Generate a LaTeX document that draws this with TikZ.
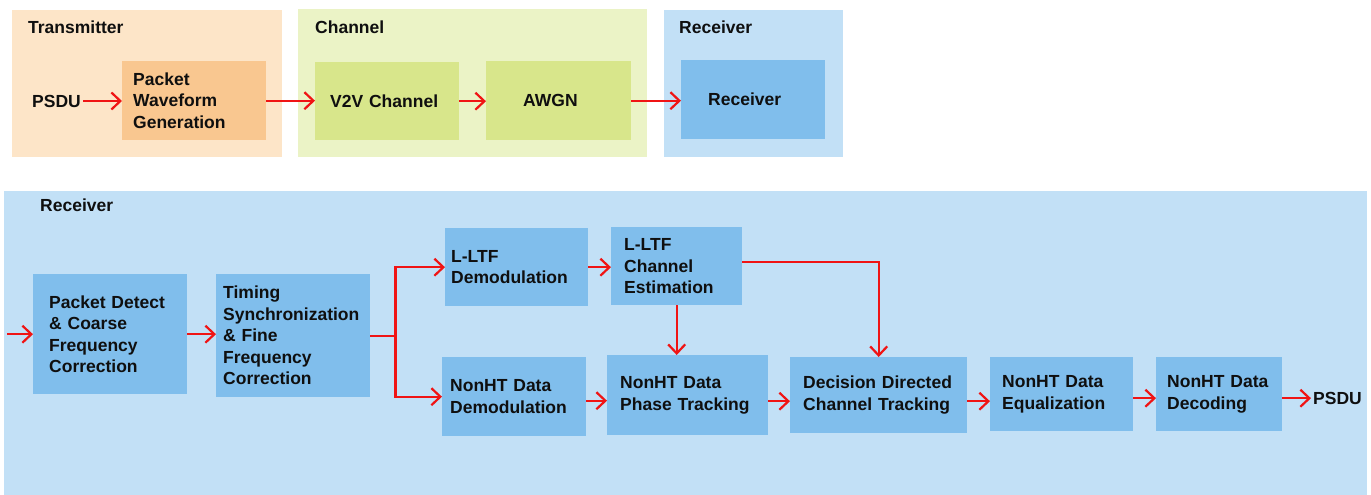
\documentclass[tikz,border=0pt]{standalone}
\usepackage{fontspec}
\setmainfont{Liberation Sans}
\usetikzlibrary{arrows.meta}

\definecolor{txpanel}{RGB}{253,229,200}
\definecolor{txblock}{RGB}{249,199,144}
\definecolor{chpanel}{RGB}{235,243,198}
\definecolor{chblock}{RGB}{216,230,139}
\definecolor{rxpanel}{RGB}{194,224,246}
\definecolor{rxblock}{RGB}{128,190,236}
\definecolor{flow}{RGB}{240,20,20}
\definecolor{ink}{RGB}{15,15,15}

\newcommand{\lbl}{\fontsize{17.5}{21.5}\selectfont\bfseries}

\tikzset{
  blk/.style={fill=#1, anchor=north west, align=left, text=ink, font=\lbl, inner ysep=0pt},
  title/.style={anchor=west, text=ink, font=\lbl, inner sep=0pt},
  sig/.style={draw=flow, line width=2.2pt, -{Straight Barb[length=9pt,width=17pt,line width=2.2pt]}},
}

\begin{document}
\begin{tikzpicture}[x=1pt, y=-1pt]
  \useasboundingbox (0,0) rectangle (1371,495);
  \fill[white] (0,0) rectangle (1371,495);

  % top row: panels
  \fill[txpanel] (12,10) rectangle (282,157);
  \fill[chpanel] (298,9) rectangle (647,157);
  \fill[rxpanel] (664,10) rectangle (843,157);
  \node[title] (txtitle) at (28,27) {Transmitter};
  \node[title] (chtitle) at (315,27) {Channel};
  \node[title] (rxtitle) at (679,27) {Receiver};

  % top row: blocks
  \node[title] (psin) at (32,101) {PSDU};
  \node[blk=txblock, minimum width=144, minimum height=79, text width=122, inner xsep=11] (pwg) at (122,61) {Packet\\Waveform\\Generation};
  \node[blk=chblock, minimum width=144, minimum height=78, text width=114, inner xsep=15] (v2v) at (315,62) {V2V Channel};
  \node[blk=chblock, minimum width=145, minimum height=79, text width=71, inner xsep=37] (awgn) at (486,61) {AWGN};
  \node[blk=rxblock, minimum width=144, minimum height=79, text width=90, inner xsep=27] (rxb) at (681,60) {Receiver};

  \draw[sig, shorten <=2pt] (psin.east) -- (psin.east -| pwg.west);
  \draw[sig] (pwg.east) -- (pwg.east -| v2v.west);
  \draw[sig] (v2v.east) -- (v2v.east -| awgn.west);
  \draw[sig] (awgn.east) -- (awgn.east -| rxb.west);

  % receiver detail
  \fill[rxpanel] (4,191) rectangle (1367,495);
  \node[title] (rxdtitle) at (40,205) {Receiver};

  \node[blk=rxblock, minimum width=154, minimum height=120, text width=122, inner xsep=16] (pd) at (33,274) {Packet Detect\\\& Coarse\\Frequency\\Correction};
  \node[blk=rxblock, minimum width=154, minimum height=123, text width=140, inner xsep=7] (tim) at (216,274) {Timing\\Synchronization\\\& Fine\\Frequency\\Correction};
  \node[blk=rxblock, minimum width=143, minimum height=78, text width=131, inner xsep=6] (ld) at (445,228) {L-LTF\\Demodulation};
  \node[blk=rxblock, minimum width=131, minimum height=78, text width=105, inner xsep=13] (lce) at (611,227) {L-LTF\\Channel\\Estimation};
  \node[blk=rxblock, minimum width=144, minimum height=79, text width=128, inner xsep=8] (nd) at (442,357) {NonHT Data\\Demodulation};
  \node[blk=rxblock, minimum width=161, minimum height=80, text width=135, inner xsep=13] (pt) at (607,355) {NonHT Data\\Phase Tracking};
  \node[blk=rxblock, minimum width=177, minimum height=76, text width=151, inner xsep=13] (dd) at (790,357) {Decision Directed\\Channel Tracking};
  \node[blk=rxblock, minimum width=143, minimum height=74, text width=119, inner xsep=12] (eq) at (990,357) {NonHT Data\\Equalization};
  \node[blk=rxblock, minimum width=126, minimum height=74, text width=104, inner xsep=11] (dec) at (1156,357) {NonHT Data\\Decoding};
  \node[title] (psout) at (1313,398) {PSDU};

  \coordinate (rxin) at ([xshift=-26]pd.west);
  \draw[sig] (rxin) -- (pd.west);
  \draw[sig] (pd.east) -- (pd.east -| tim.west);
  \draw[draw=flow, line width=2.2pt] (tim.east) -- ++(25,0) coordinate (br);
  \draw[sig] (br) |- (ld.west);
  \draw[sig] (br) |- (nd.west);
  \draw[sig] (ld.east) -- (ld.east -| lce.west);
  \draw[sig] (lce.south) -- (lce.south |- pt.north);
  \draw[sig] ([yshift=4]lce.east) -| (dd.north);
  \draw[sig] ([yshift=-4]nd.east) -- ([yshift=-4]nd.east -| pt.west);
  \draw[sig] ([yshift=-6]pt.east) -- ([yshift=-6]pt.east -| dd.west);
  \draw[sig] ([yshift=-6]dd.east) -- ([yshift=-6]dd.east -| eq.west);
  \draw[sig] ([yshift=-4]eq.east) -- ([yshift=-4]eq.east -| dec.west);
  \draw[sig, shorten >=2pt] ([yshift=-4]dec.east) -- ([yshift=-4]dec.east -| psout.west);
\end{tikzpicture}
\end{document}
